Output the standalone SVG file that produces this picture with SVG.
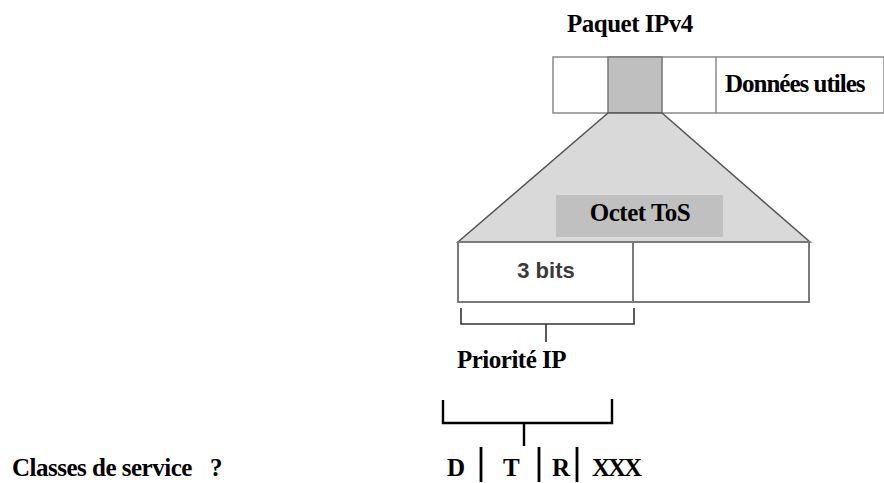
<svg xmlns="http://www.w3.org/2000/svg" width="884" height="483" viewBox="0 0 884 483">
  <style>
    .lbl { font-family: "Liberation Serif", "Times New Roman", serif; font-weight: bold; font-size: 25px; letter-spacing: -0.5px; fill: #000; }
    .sans { font-family: "Liberation Sans", Arial, sans-serif; font-weight: bold; font-size: 22px; fill: #3a3a3a; }
    .cell { fill: #fff; stroke: #8a8a8a; stroke-width: 1.5; }
    .brk { fill: none; stroke: #333; stroke-width: 1.6; }
    .brk2 { fill: none; stroke: #000; stroke-width: 2.4; }
    .sep { stroke: #000; stroke-width: 2.8; }
  </style>

  <!-- IPv4 packet header row -->
  <g id="packet">
    <text class="lbl" x="567" y="32">Paquet IPv4</text>
    <rect class="cell" x="553" y="57" width="331" height="56"/>
    <rect x="608" y="57" width="54" height="56" fill="#bfbfbf" stroke="#777" stroke-width="1.5"/>
    <line x1="716" y1="57" x2="716" y2="113" stroke="#8a8a8a" stroke-width="1.5"/>
    <text class="lbl" x="725" y="92" style="letter-spacing:-1px">Données utiles</text>
  </g>

  <!-- expansion of the ToS field -->
  <g id="tos-expand">
    <polygon points="608,113 662,113 810,242 458,242" fill="#d9d9d9" stroke="#555" stroke-width="1.5"/>
    <rect x="556" y="195" width="167" height="42" fill="#c0c0c0"/>
    <text class="lbl" x="640" y="221" text-anchor="middle">Octet ToS</text>
  </g>

  <!-- ToS byte split -->
  <g id="tos-byte">
    <rect x="458" y="242" width="351" height="60" fill="#fff" stroke="#7a7a7a" stroke-width="2"/>
    <line x1="633" y1="242" x2="633" y2="302" stroke="#7a7a7a" stroke-width="2"/>
    <text class="sans" x="546" y="278" text-anchor="middle">3 bits</text>
  </g>

  <g id="connectors">
    <!-- bracket under the 3 precedence bits -->
    <path class="brk" d="M461,308 V324 H634 V308 M546,324 V342"/>
    <!-- bracket above the service class bits -->
    <path class="brk2" d="M443,400 V423 H612 V399 M524,423 V446"/>
  </g>

  <g id="precedence">
    <text class="lbl" x="457" y="368">Priorité IP</text>
  </g>

  <g id="service-bits">
    <line class="sep" x1="481" y1="447" x2="481" y2="482"/>
    <line class="sep" x1="539" y1="447" x2="539" y2="482"/>
    <line class="sep" x1="577" y1="447" x2="577" y2="482"/>
    <text class="lbl" x="447" y="476">D</text>
    <text class="lbl" x="503" y="476">T</text>
    <text class="lbl" x="552" y="476">R</text>
    <text class="lbl" x="592" y="476" style="letter-spacing:-2px">XXX</text>
  </g>

  <g id="classes">
    <text class="lbl" x="12" y="476">Classes de service</text>
    <text class="lbl" x="210" y="476">?</text>
  </g>
</svg>
